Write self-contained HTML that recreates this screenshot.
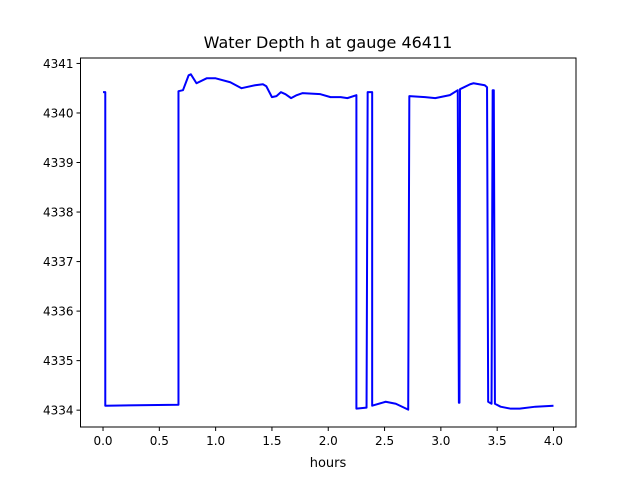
<!DOCTYPE html>
<html><head><meta charset="utf-8"><style>
html,body{margin:0;padding:0;background:#fff;}
svg{display:block;font-family:"DejaVu Sans","Liberation Sans",sans-serif;}
</style></head><body>
<svg id="chart" width="640" height="480" viewBox="0 0 640 480" xmlns="http://www.w3.org/2000/svg">
<rect x="0" y="0" width="640" height="480" fill="#fff"/>
<text x="328" y="48" text-anchor="middle" font-size="16">Water Depth h at gauge 46411</text>
<g id="xticks"></g><g id="yticks"></g>
<path id="series" fill="none" stroke="#0000ff" stroke-width="2" stroke-linejoin="round"/>
<rect x="80.5" y="58" width="495.5" height="369" fill="none" stroke="#000" stroke-width="1"/>
<text x="328" y="467" text-anchor="middle" font-size="13">hours</text>
</svg>
<script>
const hours = [0,0.02,0.02,0.67,0.67,0.71,0.76,0.78,0.83,0.92,1.0,1.13,1.23,1.35,1.42,1.45,1.5,1.54,1.58,1.62,1.67,1.72,1.77,1.93,2.02,2.11,2.17,2.25,2.25,2.34,2.35,2.39,2.39,2.51,2.6,2.71,2.72,2.86,2.95,3.08,3.15,3.16,3.165,3.17,3.26,3.29,3.39,3.41,3.42,3.45,3.46,3.47,3.48,3.53,3.62,3.7,3.84,4.0];
const depth = [4340.42,4340.42,4334.09,4334.11,4340.44,4340.46,4340.76,4340.78,4340.6,4340.7,4340.7,4340.62,4340.5,4340.56,4340.58,4340.54,4340.32,4340.34,4340.42,4340.38,4340.3,4340.36,4340.4,4340.38,4340.32,4340.32,4340.3,4340.36,4334.03,4334.05,4340.42,4340.42,4334.09,4334.17,4334.13,4334.01,4340.34,4340.32,4340.3,4340.36,4340.46,4334.15,4334.15,4340.48,4340.58,4340.6,4340.56,4340.52,4334.17,4334.13,4340.46,4340.46,4334.13,4334.07,4334.03,4334.03,4334.07,4334.09];
const xTicks = [0,0.5,1,1.5,2,2.5,3,3.5,4];
const xTickLabels = ["0.0","0.5","1.0","1.5","2.0","2.5","3.0","3.5","4.0"];
const yTicks = [4334,4335,4336,4337,4338,4339,4340,4341];
const yTickLabels = ["4334","4335","4336","4337","4338","4339","4340","4341"];

const L=80.5,R=576,T=58,B=427;
const xMin=-0.2,xMax=4.2,yMin=4333.66,yMax=4341.11;
const sx=v=>L+(v-xMin)/(xMax-xMin)*(R-L);
const sy=v=>B-(v-yMin)/(yMax-yMin)*(B-T);
const NS="http://www.w3.org/2000/svg";
function mk(tag,attrs,parent){const e=document.createElementNS(NS,tag);for(const k in attrs)e.setAttribute(k,attrs[k]);parent.appendChild(e);return e;}
const xg=document.getElementById('xticks'),yg=document.getElementById('yticks');
xTicks.forEach((t,i)=>{
  const x=sx(t);
  const ln=mk('line',{x1:x,x2:x,y1:B,y2:B+4,stroke:'#000'},xg);
  
  
  const tx=mk('text',{x:x,y:B+18,'text-anchor':'middle','font-size':'12'},xg);
  tx.textContent=xTickLabels[i];
  
  
});
yTicks.forEach((t,i)=>{
  const y=sy(t);
  const ln=mk('line',{x1:L-4,x2:L,y1:y,y2:y,stroke:'#000'},yg);
  
  
  const tx=mk('text',{x:L-7,y:y+4.5,'text-anchor':'end','font-size':'12'},yg);
  tx.textContent=yTickLabels[i];
  
  
});
document.getElementById('series').setAttribute('d',hours.map((h,i)=>(i?'L':'M')+sx(h).toFixed(2)+','+sy(depth[i]).toFixed(2)).join(''));
</script>
</body></html>
